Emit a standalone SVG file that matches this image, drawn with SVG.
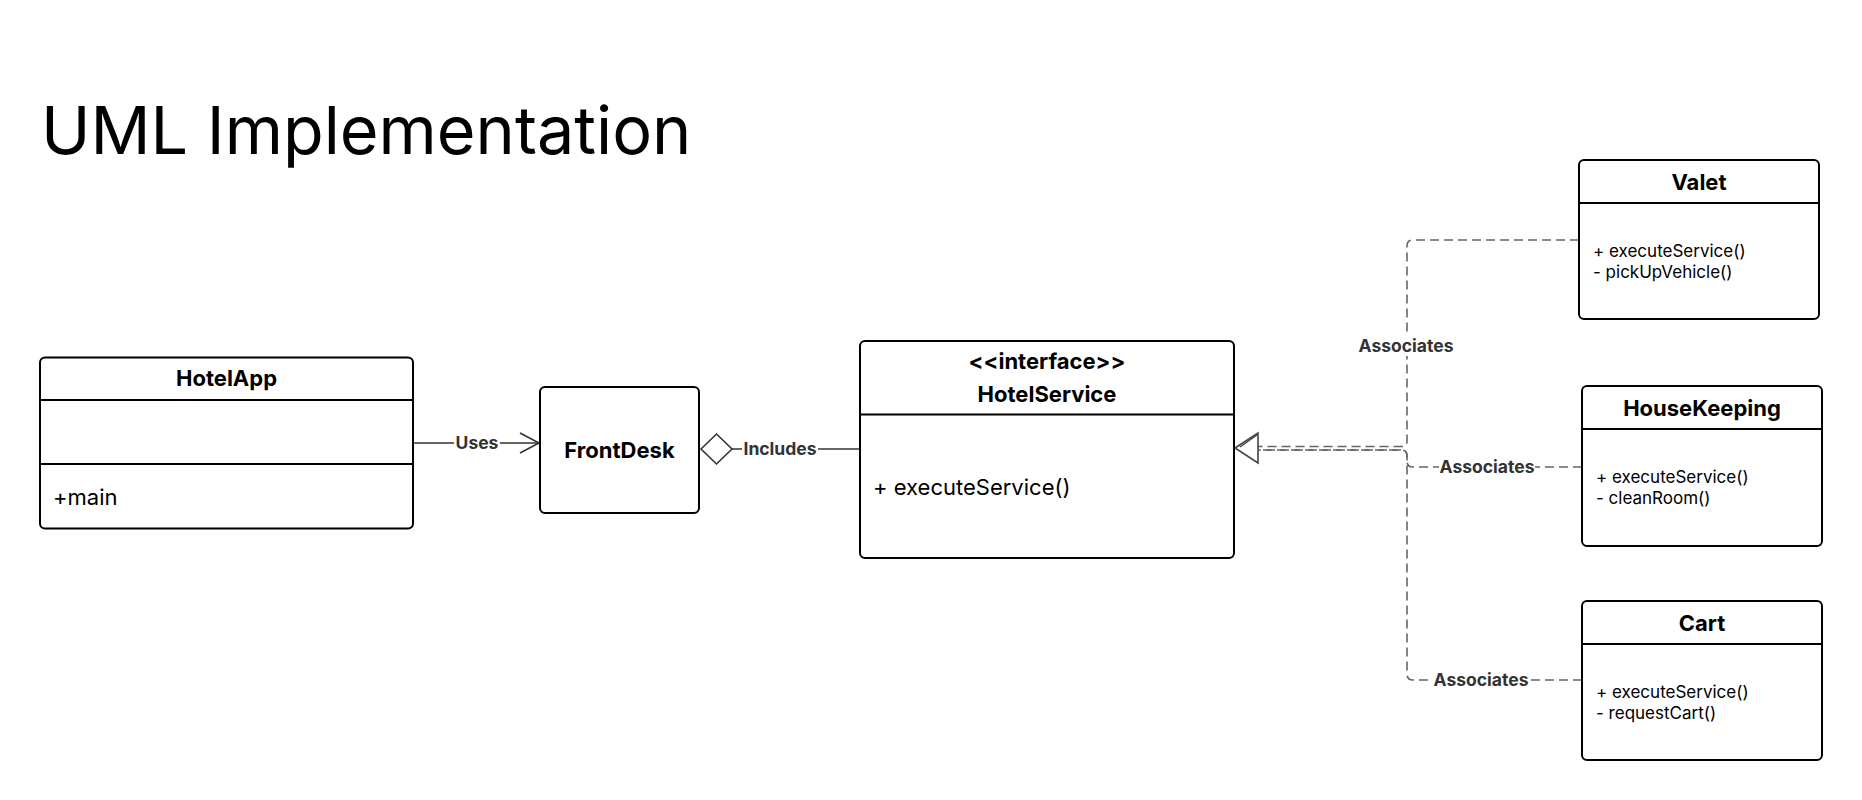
<svg xmlns="http://www.w3.org/2000/svg" width="1862" height="800" viewBox="0 0 1862 800">
<style>
.box{fill:#fff;stroke:#000;stroke-width:2}
.sep{stroke:#000;stroke-width:2}
.hd{font-family:Inter,"Liberation Sans",sans-serif;font-weight:700;font-size:22px;fill:#000;text-anchor:middle}
.mb{font-family:Inter,"Liberation Sans",sans-serif;font-size:22px;fill:#000}
.ms{font-family:Inter,"Liberation Sans",sans-serif;font-size:17px;fill:#000}
.lbl{font-family:Inter,"Liberation Sans",sans-serif;font-weight:700;font-size:17.5px;fill:#333;text-anchor:middle}
.solid{fill:none;stroke:#333;stroke-width:1.6}
.dash{fill:none;stroke:#666;stroke-width:1.6;stroke-dasharray:9 5}
.bg{fill:#fff}
</style>
<rect width="1862" height="800" fill="#fff"/>
<text x="41" y="154" font-family="Inter,'Liberation Sans',sans-serif" font-size="66.5" fill="#000">UML Implementation</text>

<g id="connectors">
  <line class="solid" x1="413" y1="443" x2="539" y2="443"/>
  <polyline class="solid" points="520,433 539,443 520,453"/>
  <rect class="bg" x="454" y="433" width="46" height="20"/>
  <text class="lbl" x="477" y="449">Uses</text>

  <line class="solid" x1="732" y1="449" x2="860" y2="449"/>
  <polygon points="701,449 716.5,434 732,449 716.5,464" fill="#fff" stroke="#333" stroke-width="1.6"/>
  <rect class="bg" x="742" y="439" width="76" height="20"/>
  <text class="lbl" x="780" y="455">Includes</text>

  <path class="dash" d="M1579,240 H1413 Q1407,240 1407,246 V441 Q1407,446.5 1401,446.5 H1258"/>
  <path class="dash" d="M1582,467 H1413 Q1407,467 1407,461 V456 Q1407,450 1401,450 H1258"/>
  <path class="dash" d="M1582,680 H1413 Q1407,680 1407,674 V456 Q1407,450 1401,450 H1258"/>
  <polygon points="1235,448 1258,433 1258,463" fill="#fff" stroke="#444" stroke-width="1.6"/>
  <polyline points="1240,447 1257,435" fill="none" stroke="#444" stroke-width="1.4"/>

  <rect class="bg" x="1358" y="334" width="96" height="22"/>
  <text class="lbl" x="1406" y="352">Associates</text>
  <rect class="bg" x="1439" y="457" width="96" height="22"/>
  <text class="lbl" x="1487" y="473">Associates</text>
  <rect class="bg" x="1433" y="670" width="96" height="22"/>
  <text class="lbl" x="1481" y="686">Associates</text>
</g>

<g id="HotelApp">
  <rect class="box" x="40" y="357.5" width="373" height="171" rx="5"/>
  <line class="sep" x1="40" y1="400" x2="413" y2="400"/>
  <line class="sep" x1="40" y1="464" x2="413" y2="464"/>
  <text class="hd" x="226.5" y="386">HotelApp</text>
  <text class="mb" x="53" y="505">+main</text>
</g>

<g id="FrontDesk">
  <rect class="box" x="540" y="387" width="159" height="126" rx="5"/>
  <text class="hd" x="619.5" y="458">FrontDesk</text>
</g>

<g id="HotelService">
  <rect class="box" x="860" y="341" width="374" height="217" rx="5"/>
  <line class="sep" x1="860" y1="414.5" x2="1234" y2="414.5"/>
  <text class="hd" x="1047" y="369">&lt;&lt;interface&gt;&gt;</text>
  <text class="hd" x="1047" y="402">HotelService</text>
  <text class="mb" x="873" y="495">+ executeService()</text>
</g>

<g id="Valet">
  <rect class="box" x="1579" y="160" width="240" height="159" rx="5"/>
  <line class="sep" x1="1579" y1="203" x2="1819" y2="203"/>
  <text class="hd" x="1699" y="189.5">Valet</text>
  <text class="ms" x="1593" y="257">+ executeService()</text>
  <text class="ms" x="1593" y="278">- pickUpVehicle()</text>
</g>

<g id="HouseKeeping">
  <rect class="box" x="1582" y="386" width="240" height="160" rx="5"/>
  <line class="sep" x1="1582" y1="429" x2="1822" y2="429"/>
  <text class="hd" x="1702" y="415.5">HouseKeeping</text>
  <text class="ms" x="1596" y="483">+ executeService()</text>
  <text class="ms" x="1596" y="504">- cleanRoom()</text>
</g>

<g id="Cart">
  <rect class="box" x="1582" y="601" width="240" height="159" rx="5"/>
  <line class="sep" x1="1582" y1="644" x2="1822" y2="644"/>
  <text class="hd" x="1702" y="630.5">Cart</text>
  <text class="ms" x="1596" y="698">+ executeService()</text>
  <text class="ms" x="1596" y="719">- requestCart()</text>
</g>
</svg>
